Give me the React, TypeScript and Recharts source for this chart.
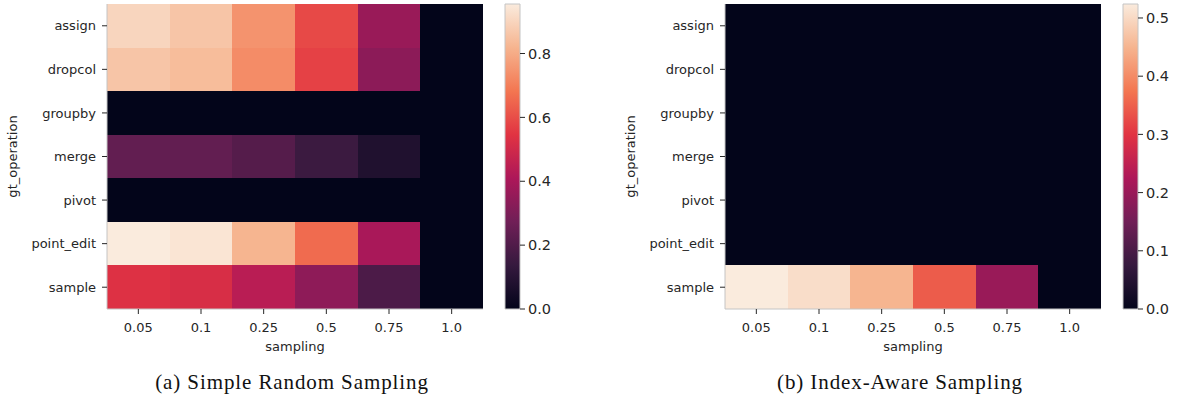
import { BarChart, Bar, Cell, XAxis, YAxis } from "recharts";

const operations = ["assign", "dropcol", "groupby", "merge", "pivot", "point_edit", "sample"];
const samplingRates = ["0.05", "0.1", "0.25", "0.5", "0.75", "1.0"];

// (a) simple random sampling, one array per gt_operation row
const srsAssign = [0.9, 0.86, 0.745, 0.59, 0.365, 0.0];
const srsDropcol = [0.86, 0.84, 0.73, 0.575, 0.335, 0.0];
const srsGroupby = [0.0, 0.0, 0.0, 0.0, 0.0, 0.0];
const srsMerge = [0.24, 0.24, 0.21, 0.15, 0.08, 0.0];
const srsPivot = [0.0, 0.0, 0.0, 0.0, 0.0, 0.0];
const srsPointEdit = [0.955, 0.94, 0.82, 0.66, 0.4, 0.0];
const srsSample = [0.535, 0.52, 0.44, 0.34, 0.19, 0.0];

// (b) index-aware sampling
const iasAssign = [0, 0, 0, 0, 0, 0];
const iasDropcol = [0, 0, 0, 0, 0, 0];
const iasGroupby = [0, 0, 0, 0, 0, 0];
const iasMerge = [0, 0, 0, 0, 0, 0];
const iasPivot = [0, 0, 0, 0, 0, 0];
const iasPointEdit = [0, 0, 0, 0, 0, 0];
const iasSample = [0.524, 0.505, 0.45, 0.345, 0.2, 0.0];

const srsTicks = [0, 0.2, 0.4, 0.6, 0.8];
const iasTicks = [0, 0.1, 0.2, 0.3, 0.4, 0.5];

// seaborn "rocket" colormap, sampled at 0, 1/7 ... 6/7, 1
const ROCKET = ["#03051A", "#35193E", "#701F57", "#AD1759", "#E13342", "#F37651", "#F6B48F", "#FAEBDD"];

function hexToRgb(h: string) {
  return [1, 3, 5].map((i) => parseInt(h.slice(i, i + 2), 16));
}

function rocket(t: number) {
  const c = Math.max(0, Math.min(1, t)) * (ROCKET.length - 1);
  const i = Math.min(Math.floor(c), ROCKET.length - 2);
  const f = c - i;
  const a = hexToRgb(ROCKET[i]);
  const b = hexToRgb(ROCKET[i + 1]);
  const rgb = a.map((v, k) => Math.round(v + (b[k] - v) * f));
  return `rgb(${rgb.join(",")})`;
}

const FONT = "DejaVu Sans";
const TEXT = "#262626";
const FRAME = "#c4c4c4";
const tickStyle = { fontFamily: FONT, fontSize: 13, fill: TEXT };

function Heatmap({ matrix, vmax }: { matrix: number[][]; vmax: number }) {
  const rows = operations.map((op) => {
    const r: Record<string, any> = { op };
    samplingRates.forEach((_, j) => (r[`c${j}`] = 1));
    return r;
  });
  return (
    <BarChart
      width={490}
      height={360}
      data={rows}
      layout="vertical"
      barCategoryGap={0}
      margin={{ top: 4, right: 7, bottom: 0, left: 0 }}
    >
      <XAxis
        type="number"
        domain={[0, 6]}
        ticks={[0.5, 1.5, 2.5, 3.5, 4.5, 5.5]}
        tickFormatter={(v: number) => samplingRates[Math.floor(v)]}
        height={51}
        tickSize={5}
        tickMargin={9}
        tick={tickStyle}
        tickLine={{ stroke: TEXT }}
        axisLine={{ stroke: FRAME }}
        label={{
          value: "sampling",
          position: "insideBottom",
          offset: 9,
          style: { fontFamily: FONT, fontSize: 13, fill: TEXT },
        }}
      />
      <XAxis xAxisId="top" orientation="top" type="number" domain={[0, 6]} height={0} tick={false} tickLine={false} axisLine={{ stroke: FRAME }} />
      <YAxis
        type="category"
        dataKey="op"
        width={107}
        tickSize={5}
        tickMargin={6}
        tick={tickStyle}
        tickLine={{ stroke: TEXT }}
        axisLine={{ stroke: FRAME }}
        label={{
          content: ({ viewBox }: any) => {
            const cy = viewBox.y + viewBox.height / 2;
            return (
              <text
                x={12}
                y={cy}
                transform={`rotate(-90 12 ${cy})`}
                textAnchor="middle"
                dominantBaseline="central"
                fontFamily={FONT}
                fontSize={13}
                fill={TEXT}
              >
                gt_operation
              </text>
            );
          },
        }}
      />
      <YAxis yAxisId="r" orientation="right" type="category" dataKey="op" width={0} tick={false} tickLine={false} axisLine={{ stroke: FRAME }} />
      {samplingRates.map((s, j) => (
        <Bar key={s} dataKey={`c${j}`} stackId="cells" isAnimationActive={false}>
          {operations.map((op, i) => (
            <Cell key={op} fill={rocket(matrix[i][j] / vmax)} shapeRendering="crispEdges" />
          ))}
        </Bar>
      ))}
    </BarChart>
  );
}

function Colorbar({ vmax, ticks, id }: { vmax: number; ticks: number[]; id: string }) {
  return (
    <BarChart
      width={80}
      height={360}
      data={[{ name: "cb", v: vmax }]}
      barCategoryGap={0}
      margin={{ top: 4, right: 10, bottom: 51, left: 10 }}
    >
      <defs>
        <linearGradient id={id} x1="0" y1="1" x2="0" y2="0">
          {ROCKET.map((c, k) => (
            <stop key={k} offset={k / (ROCKET.length - 1)} stopColor={c} />
          ))}
        </linearGradient>
      </defs>
      <XAxis dataKey="name" hide />
      <YAxis
        orientation="right"
        domain={[0, vmax]}
        ticks={ticks}
        width={45}
        tickSize={5}
        tickMargin={3}
        tickFormatter={(v: number) => v.toFixed(1)}
        tick={{ fontFamily: FONT, fontSize: 14.5, fill: TEXT }}
        tickLine={{ stroke: TEXT }}
        axisLine={false}
      />
      <Bar dataKey="v" fill={`url(#${id})`} stroke={FRAME} strokeWidth={1} isAnimationActive={false} />
    </BarChart>
  );
}

const captionStyle: React.CSSProperties = {
  position: "absolute",
  top: 370,
  width: 400,
  textAlign: "center",
  fontFamily: "Liberation Serif",
  fontSize: 21,
  letterSpacing: 0.9,
  color: "#111",
  lineHeight: "24px",
};

export default function App() {
  const srs = [srsAssign, srsDropcol, srsGroupby, srsMerge, srsPivot, srsPointEdit, srsSample];
  const ias = [iasAssign, iasDropcol, iasGroupby, iasMerge, iasPivot, iasPointEdit, iasSample];
  return (
    <div style={{ position: "absolute", left: 0, top: 0, width: 1177, height: 409, background: "#fff" }}>
      <div style={{ position: "absolute", left: 0, top: 0 }}>
        <Heatmap matrix={srs} vmax={0.955} />
      </div>
      <div style={{ position: "absolute", left: 495, top: 0 }}>
        <Colorbar vmax={0.955} ticks={srsTicks} id="cbA" />
      </div>
      <div style={{ position: "absolute", left: 618, top: 0 }}>
        <Heatmap matrix={ias} vmax={0.524} />
      </div>
      <div style={{ position: "absolute", left: 1113, top: 0 }}>
        <Colorbar vmax={0.524} ticks={iasTicks} id="cbB" />
      </div>
      <div style={{ ...captionStyle, left: 92 }}>(a) Simple Random Sampling</div>
      <div style={{ ...captionStyle, left: 700 }}>(b) Index-Aware Sampling</div>
    </div>
  );
}
